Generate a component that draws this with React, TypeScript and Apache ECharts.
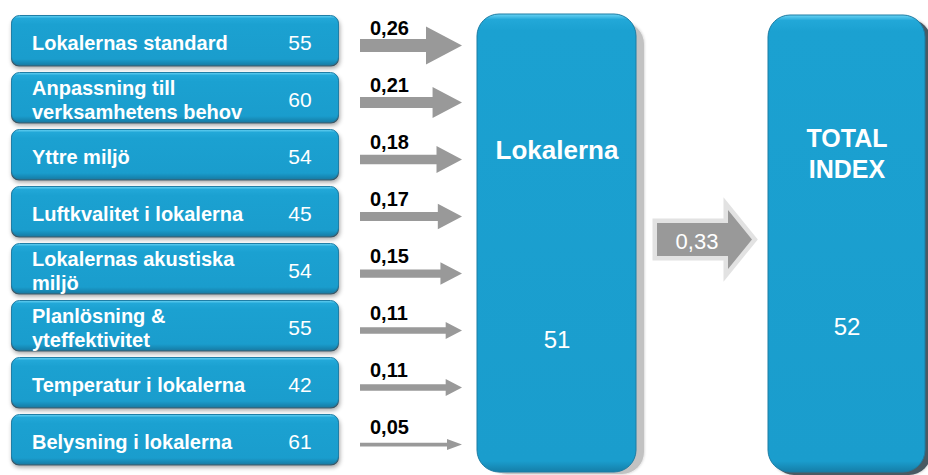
import React, { useEffect, useRef } from "react";
import * as echarts from "echarts";

// Drivers of the "Lokalerna" index: name, index score and weight (effect on the area index)
const drivers = [
  "Lokalernas standard",
  "Anpassning till\nverksamhetens behov",
  "Yttre miljö",
  "Luftkvalitet i lokalerna",
  "Lokalernas akustiska\nmiljö",
  "Planlösning &\nyteffektivitet",
  "Temperatur i lokalerna",
  "Belysning i lokalerna",
];
const driverScores = [55, 60, 54, 45, 54, 55, 42, 61];
const driverWeights = [0.26, 0.21, 0.18, 0.17, 0.15, 0.11, 0.11, 0.05];

// Area and total
const areaName = "Lokalerna";
const areaScore = 51;
const areaWeight = 0.33;
const totalName = "TOTAL\nINDEX";
const totalScore = 52;

const FONT = "'Liberation Sans', Arial, Helvetica, sans-serif";
const fmt = (v: number) => v.toFixed(2).replace(".", ",");

const blueFill = (hi: number) =>
  new echarts.graphic.LinearGradient(0, 0, 0, 1, [
    { offset: 0, color: "#6ad3f4" },
    { offset: hi, color: "#22a8d8" },
    { offset: hi * 3, color: "#1ba1d1" },
    { offset: 1 - hi * 2, color: "#1a9dcd" },
    { offset: 1, color: "#157ea8" },
  ]);

export default function App() {
  const ref = useRef<HTMLDivElement>(null);

  useEffect(() => {
    const chart = echarts.init(ref.current!, null, { renderer: "svg" });

    // Driver box: rounded blue rect with name and score
    const renderBox = (params: any, api: any) => {
      const i = api.value(1);
      const score = api.value(0);
      const cy = api.coord([0, i])[1];
      const x = 11;
      const w = 328;
      const h = 50;
      const top = cy - h / 2;
      return {
        type: "group",
        children: [
          {
            type: "rect",
            shape: { x: x, y: top + 1, width: w, height: h, r: 8 },
            style: {
              fill: "#3d5663",
              shadowBlur: 4,
              shadowColor: "rgba(0,0,0,0.35)",
              shadowOffsetX: 1,
              shadowOffsetY: 2,
            },
          },
          {
            type: "rect",
            shape: { x: x + 0.5, y: top, width: w - 1, height: h - 0.5, r: 8 },
            style: { fill: blueFill(0.06), stroke: "#1f7ea6", lineWidth: 1 },
          },
          {
            type: "text",
            style: {
              text: drivers[i],
              x: 32,
              y: cy + 2,
              fill: "#ffffff",
              font: `bold 20px ${FONT}`,
              lineHeight: 24,
              align: "left",
              verticalAlign: "middle",
            },
          },
          {
            type: "text",
            style: {
              text: String(score),
              x: 300,
              y: cy + 2,
              fill: "#ffffff",
              font: `21px ${FONT}`,
              align: "center",
              verticalAlign: "middle",
            },
          },
        ],
      };
    };

    // Weight arrow: thickness grows with the weight
    const renderArrow = (params: any, api: any) => {
      const wgt = api.value(0);
      const i = api.value(1);
      const cy = api.coord([0, i])[1] + 5;
      const x0 = 360;
      const tip = 462;
      const s = 45 * wgt + 1.5;
      const hh = Math.max(11, 138 * wgt + 2);
      const L = Math.max(15, hh * 0.95);
      const points = [
        [x0, cy - s / 2],
        [tip - L, cy - s / 2],
        [tip - L, cy - hh / 2],
        [tip, cy],
        [tip - L, cy + hh / 2],
        [tip - L, cy + s / 2],
        [x0, cy + s / 2],
      ];
      return {
        type: "group",
        children: [
          { type: "polygon", shape: { points }, style: { fill: "#999999" } },
          {
            type: "text",
            style: {
              text: fmt(wgt),
              x: 370,
              y: cy - 18,
              fill: "#000000",
              font: `bold 20px ${FONT}`,
              align: "left",
              verticalAlign: "middle",
            },
          },
        ],
      };
    };

    const bigArrow = [
      [657, 223],
      [728, 223],
      [728, 210],
      [752, 239.5],
      [728, 269],
      [728, 256],
      [657, 256],
    ];

    const option: any = {
      animation: false,
      grid: { left: 0, right: 0, top: 12, bottom: 7 },
      xAxis: { type: "value", min: 0, max: 928, show: false },
      yAxis: { type: "category", data: drivers, inverse: true, show: false },
      series: [
        {
          type: "custom",
          name: "Index",
          silent: true,
          data: driverScores.map((v, i) => [v, i]),
          renderItem: renderBox,
        },
        {
          type: "custom",
          name: "Effekt",
          silent: true,
          data: driverWeights.map((v, i) => [v, i]),
          renderItem: renderArrow,
        },
      ],
      graphic: [
        // Area box with its grey drop shadow
        {
          type: "rect",
          shape: { x: 485, y: 22, width: 159, height: 452, r: 22 },
          style: { fill: "#c2c2c2", shadowBlur: 3, shadowColor: "rgba(0,0,0,0.25)" },
        },
        {
          type: "rect",
          shape: { x: 477, y: 14, width: 159, height: 458, r: 22 },
          style: { fill: blueFill(0.012), stroke: "#1d7ca3", lineWidth: 1 },
        },
        {
          type: "text",
          style: {
            text: areaName,
            x: 557,
            y: 150,
            fill: "#ffffff",
            font: `bold 26px ${FONT}`,
            align: "center",
            verticalAlign: "middle",
          },
        },
        {
          type: "text",
          style: {
            text: String(areaScore),
            x: 557,
            y: 339,
            fill: "#ffffff",
            font: `24px ${FONT}`,
            align: "center",
            verticalAlign: "middle",
          },
        },
        // Area -> total arrow with its light halo
        {
          type: "polygon",
          shape: { points: bigArrow },
          style: { fill: "#e2e2e2", stroke: "#e2e2e2", lineWidth: 9, lineJoin: "miter", miterLimit: 4 },
        },
        {
          type: "polygon",
          shape: { points: bigArrow },
          style: { fill: "#999999" },
        },
        {
          type: "text",
          style: {
            text: fmt(areaWeight),
            x: 697,
            y: 241,
            fill: "#ffffff",
            font: `22px ${FONT}`,
            align: "center",
            verticalAlign: "middle",
          },
        },
        // Total box
        {
          type: "rect",
          shape: { x: 772, y: 19, width: 159, height: 456, r: 22 },
          style: { fill: "#4a5a63", shadowBlur: 3, shadowColor: "rgba(0,0,0,0.3)" },
        },
        {
          type: "rect",
          shape: { x: 768, y: 15, width: 157, height: 457, r: 22 },
          style: { fill: blueFill(0.012), stroke: "#1d7ca3", lineWidth: 1 },
        },
        {
          type: "text",
          style: {
            text: totalName,
            x: 847,
            y: 153,
            fill: "#ffffff",
            font: `bold 25px ${FONT}`,
            lineHeight: 31,
            align: "center",
            verticalAlign: "middle",
          },
        },
        {
          type: "text",
          style: {
            text: String(totalScore),
            x: 847,
            y: 326,
            fill: "#ffffff",
            font: `24px ${FONT}`,
            align: "center",
            verticalAlign: "middle",
          },
        },
      ],
    };

    chart.setOption(option);
    return () => chart.dispose();
  }, []);

  return (
    <div
      ref={ref}
      style={{ position: "absolute", left: 0, top: 0, width: 928, height: 475, background: "#ffffff" }}
    />
  );
}
